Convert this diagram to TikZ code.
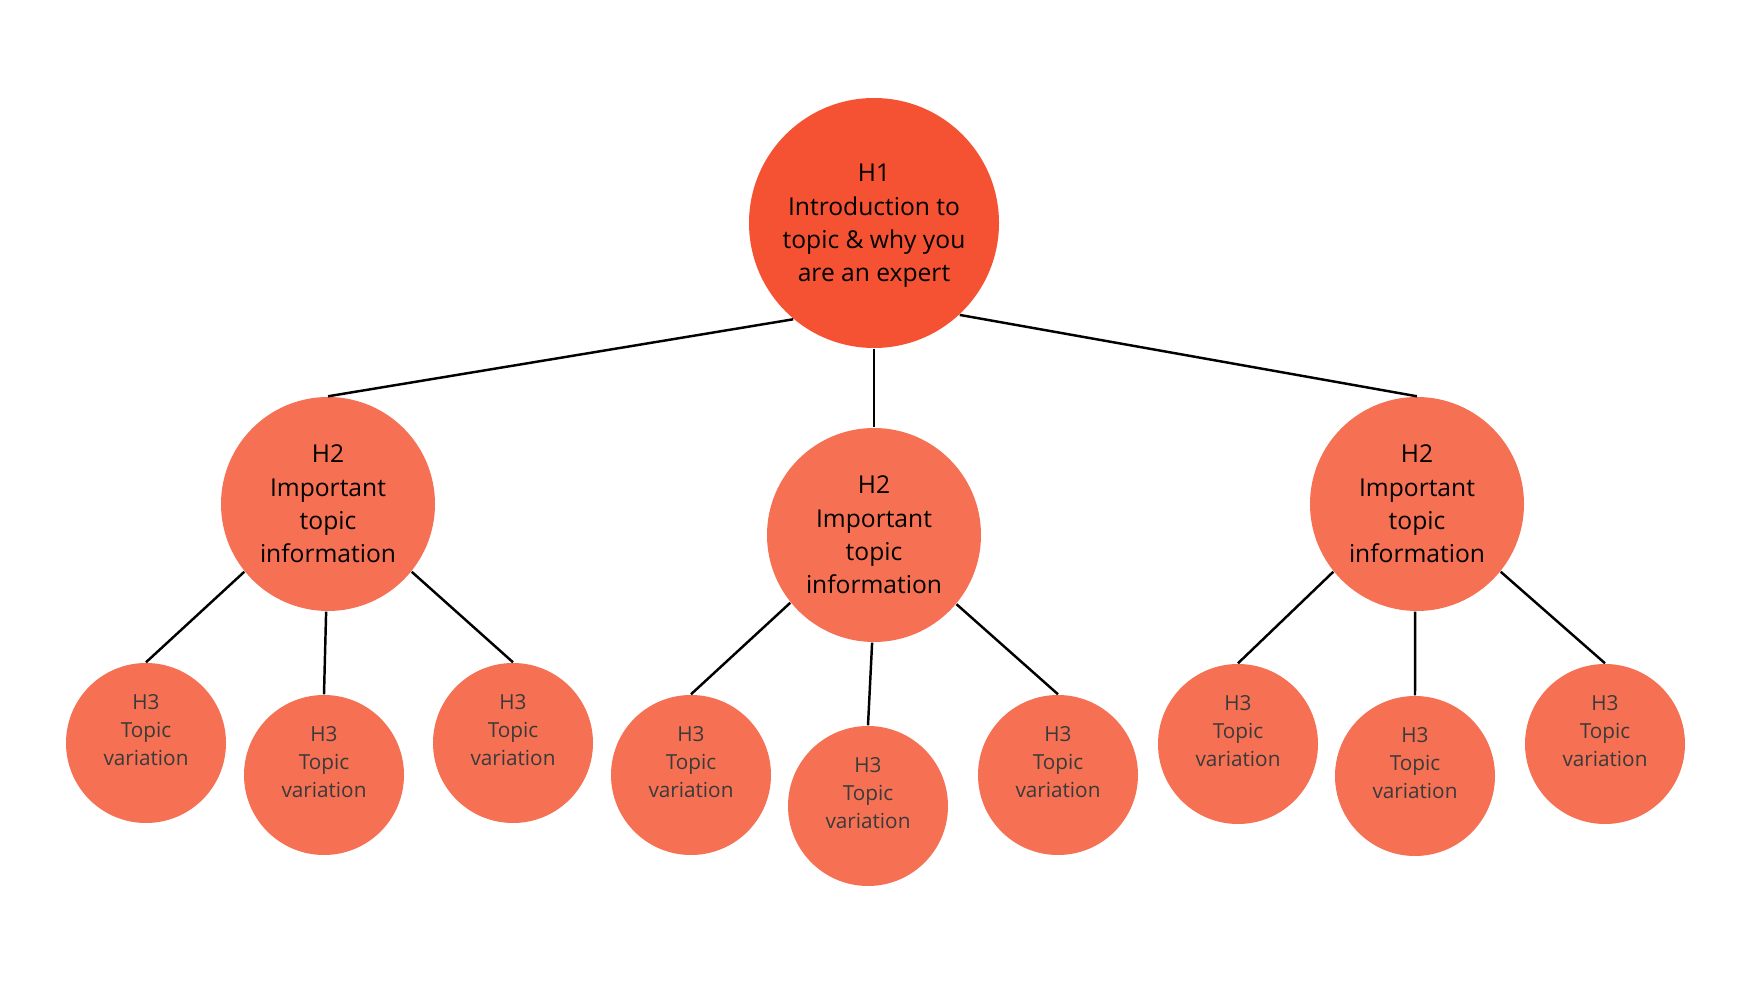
\documentclass[tikz,border=0pt]{standalone}
\usepackage{fontspec}
\setmainfont{Open Sans}
\definecolor{hone}{HTML}{F55233}
\definecolor{htwo}{HTML}{F67053}
\definecolor{hthreetext}{HTML}{3A3A3A}
\begin{document}
\begin{tikzpicture}[x=0.1mm,y=-0.1mm,
  h1/.style={circle,fill=hone,minimum size=250*0.1mm,inner sep=0pt},
  h2/.style={circle,fill=htwo,minimum size=214*0.1mm,inner sep=0pt},
  h3/.style={circle,fill=htwo,minimum size=160*0.1mm,inner sep=0pt},
  bigtext/.style={align=center,font=\fontsize{7pt}{9.5pt}\selectfont,text=black,inner sep=0pt},
  smalltext/.style={align=center,font=\fontsize{5.9pt}{7.9pt}\selectfont,text=hthreetext,inner sep=0pt},
  link/.style={draw=black,line width=0.7pt}]
\useasboundingbox (0,0) rectangle (1750,984);
\fill[white] (0,0) rectangle (1750,984);
% circles
\node[h1] (a) at (874,223) {};
\node[h2] (b1) at (328,504) {};
\node[h2] (b2) at (874,535) {};
\node[h2] (b3) at (1417,504) {};
\node[h3] (c1) at (146,743) {};
\node[h3] (c2) at (324,775) {};
\node[h3] (c3) at (513,743) {};
\node[h3] (c4) at (691,775) {};
\node[h3] (c5) at (868,806) {};
\node[h3] (c6) at (1058,775) {};
\node[h3] (c7) at (1238,744) {};
\node[h3] (c8) at (1415,776) {};
\node[h3] (c9) at (1605,744) {};
% texts
\node[bigtext] (ta) at ([yshift=-0.3mm]a.center) {H1\\Introduction to\\topic \& why you\\are an expert};
\foreach \n in {b1,b2,b3}{
  \node[bigtext] (t\n) at (\n) {H2\\Important\\topic\\information};
}
\foreach \n in {c1,c2,c3,c4,c5,c6,c7,c8,c9}{
  \node[smalltext] (t\n) at ([yshift=1.3mm]\n.center) {H3\\Topic\\variation};
}
% connectors
\draw[link] (a.230) -- (b1.north);
\draw[link] (a.south) -- (b2.north);
\draw[link] (a.313) -- (b3.north);
\draw[link] (b1.219) -- (c1.north);
\draw[link] (b1.269) -- (c2.north);
\draw[link] (b1.321) -- (c3.north);
\draw[link] (b2.219) -- (c4.north);
\draw[link] (b2.269) -- (c5.north);
\draw[link] (b2.320) -- (c6.north);
\draw[link] (b3.219) -- (c7.north);
\draw[link] (b3.269) -- (c8.north);
\draw[link] (b3.321) -- (c9.north);
\end{tikzpicture}
\end{document}
